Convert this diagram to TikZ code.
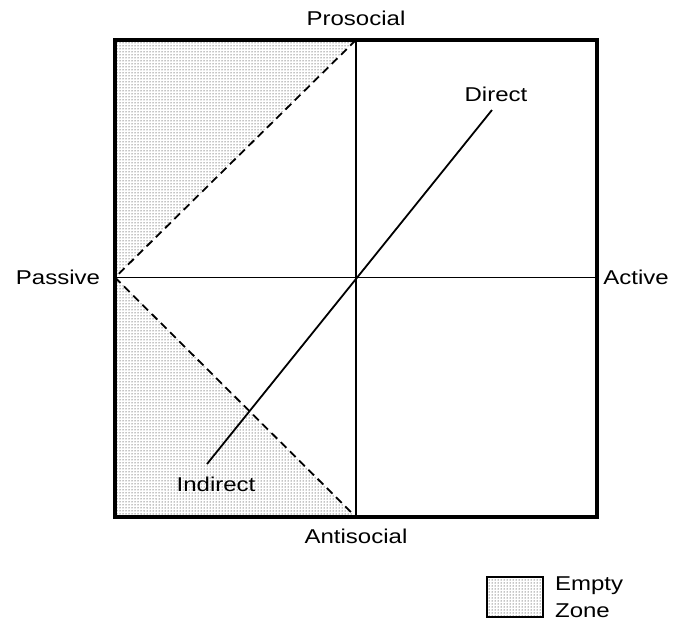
\documentclass[tikz,border=0pt]{standalone}
\usepackage{fontspec}
\setmainfont{Liberation Sans}[FakeStretch=1.2]
\usetikzlibrary{patterns,positioning}
\tikzset{
  frame/.style={line width=3.2pt},
  axis/.style={line width=1.8pt},
  zoneEdge/.style={line width=1.8pt,dash pattern=on 8pt off 5pt},
  emptyZone/.style={pattern=dots},
  dimLabel/.style={font=\fontsize{20}{22}\selectfont,inner sep=0pt},
}
\begin{document}
\begin{tikzpicture}[x=1pt,y=-1pt]
\useasboundingbox (0,0) rectangle (673,622);

% corners and midpoints of the square
\coordinate (NW) at (115,40);
\coordinate (SE) at (597,517);
\coordinate (SW) at (115,517);
\coordinate (N) at (356,40);
\coordinate (S) at (356,517);
\coordinate (W) at (115,277.5);
\coordinate (E) at (597,277.5);
\coordinate (dirEnd) at (492,110);
\coordinate (indEnd) at (207,464);

% ===== Empty zones =====
\fill[emptyZone] (NW) -- (N) -- (W) -- cycle;
\fill[emptyZone] (W) -- (S) -- (SW) -- cycle;
\draw[zoneEdge] (N) -- (W) -- (S);

% ===== Axes =====
\draw[axis] (N) -- (S);
\draw[axis] (W) -- (E);
\draw[axis] (indEnd) -- (dirEnd);
\draw[frame] (NW) rectangle (SE);

% ===== Labels =====
\node[dimLabel] (prosocial) at (356,18) {Prosocial};
\node[dimLabel] (antisocial) at (356,536) {Antisocial};
\node[dimLabel] (passive) at (58,277) {Passive};
\node[dimLabel] (active) at (636,277) {Active};
\node[dimLabel] (direct) at (496,94) {Direct};
\node[dimLabel] (indirect) at (216,484) {Indirect};

% ===== Legend =====
\node[draw, line width=1.8pt, emptyZone, minimum width=56pt, minimum height=40pt] (key) at (515,597) {};
\node[dimLabel, font=\fontsize{20}{27}\selectfont, align=left, right=11pt of key] (keyText) {Empty\\Zone};

\end{tikzpicture}
\end{document}
